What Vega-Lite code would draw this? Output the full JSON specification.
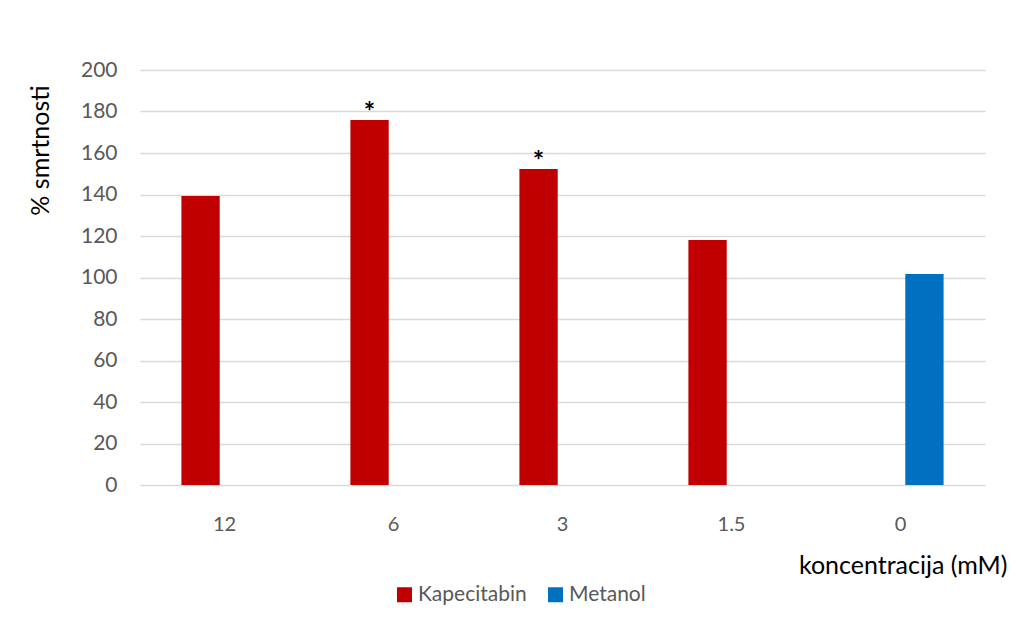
{
  "$schema": "https://vega.github.io/schema/vega-lite/v6.json",
  "autosize": {"type": "none"},
  "width": 845,
  "height": 415,
  "padding": {"left": 140, "top": 70, "right": 31, "bottom": 141},
  "background": "white",
  "config": {
    "font": "Lato",
    "view": {"stroke": null},
    "axis": {"labelFont": "Lato", "titleFont": "Lato"},
    "legend": {"labelFont": "Lato"}
  },
  "data": {
    "values": [
      {"konc": "12", "serija": "Kapecitabin", "vrijednost": 139.3, "oznaka": ""},
      {"konc": "6", "serija": "Kapecitabin", "vrijednost": 175.9, "oznaka": "*"},
      {"konc": "3", "serija": "Kapecitabin", "vrijednost": 152.3, "oznaka": "*"},
      {"konc": "1.5", "serija": "Kapecitabin", "vrijednost": 118.1, "oznaka": ""},
      {"konc": "0", "serija": "Metanol", "vrijednost": 101.7, "oznaka": ""}
    ]
  },
  "encoding": {
    "x": {
      "field": "konc",
      "type": "nominal",
      "sort": ["12", "6", "3", "1.5", "0"],
      "scale": {"paddingInner": 0.49, "paddingOuter": 0.245},
      "axis": {
        "title": "koncentracija (mM)",
        "titleFontSize": 25,
        "titleFontWeight": "normal",
        "titleColor": "#000000",
        "titleAnchor": "end",
        "titleAlign": "right",
        "titleBaseline": "middle",
        "titleX": 867,
        "titleY": 80,
        "labelAngle": 0,
        "labelFontSize": 20,
        "labelColor": "#595959",
        "labelPadding": 29,
        "ticks": false,
        "domain": false,
        "grid": false
      }
    },
    "xOffset": {
      "field": "serija",
      "type": "nominal",
      "sort": ["Kapecitabin", "Metanol"],
      "scale": {"paddingInner": 0.2}
    },
    "y": {
      "field": "vrijednost",
      "type": "quantitative",
      "scale": {"domain": [0, 200]},
      "axis": {
        "title": "% smrtnosti",
        "titleFontSize": 25,
        "titleFontWeight": "normal",
        "titleColor": "#000000",
        "titleAngle": -90,
        "titleAlign": "center",
        "titleBaseline": "middle",
        "titleX": -100,
        "titleY": 80,
        "values": [0, 20, 40, 60, 80, 100, 120, 140, 160, 180, 200],
        "labelFontSize": 21,
        "labelColor": "#595959",
        "labelPadding": 23,
        "ticks": false,
        "domain": false,
        "grid": true,
        "gridColor": "#d9d9d9",
        "gridWidth": 1.3
      }
    }
  },
  "layer": [
    {
      "mark": {"type": "bar"},
      "encoding": {
        "color": {
          "field": "serija",
          "type": "nominal",
          "scale": {"domain": ["Kapecitabin", "Metanol"], "range": ["#C00000", "#0070C0"]},
          "legend": {
            "title": null,
            "orient": "none",
            "direction": "horizontal",
            "legendX": 254,
            "legendY": 514,
            "symbolType": "square",
            "symbolSize": 225,
            "symbolStrokeWidth": 0,
            "labelFontSize": 21,
            "labelColor": "#595959",
            "labelOffset": 3,
            "columnPadding": 18
          }
        }
      }
    },
    {
      "transform": [{"filter": "datum.oznaka != ''"}],
      "mark": {"type": "text", "baseline": "alphabetic", "dy": 1, "fontSize": 27, "fontWeight": "bold", "color": "#000000"},
      "encoding": {
        "text": {"field": "oznaka"}
      }
    }
  ]
}
